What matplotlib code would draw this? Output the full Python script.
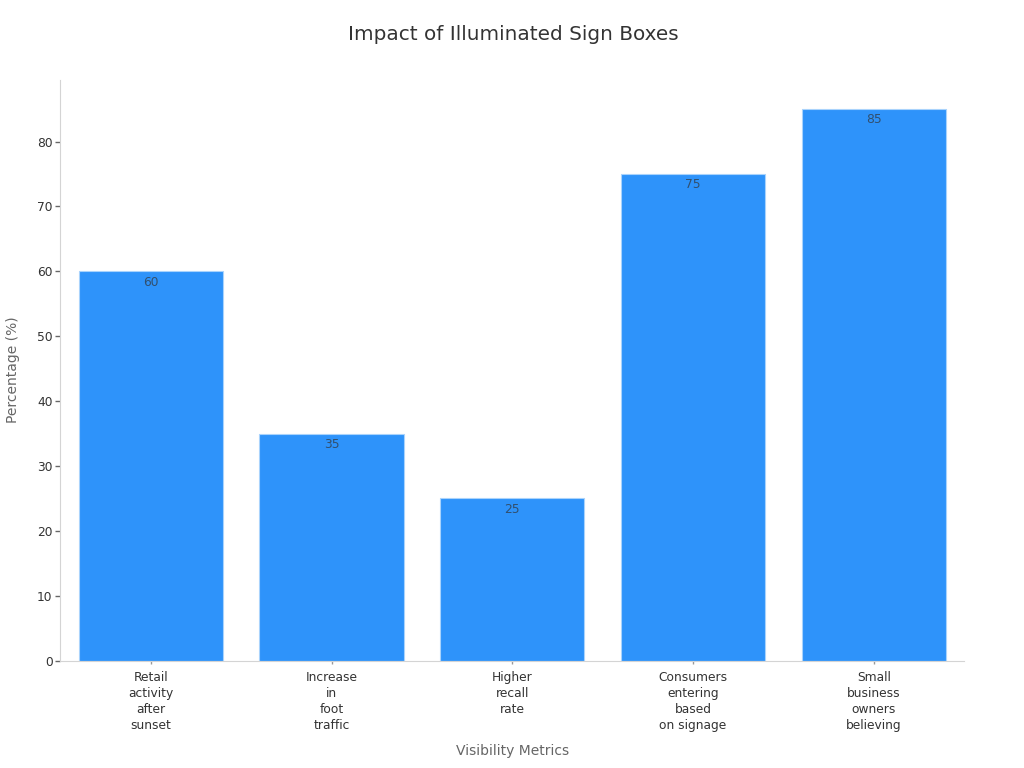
import numpy as np
import matplotlib
matplotlib.use("Agg")
import matplotlib.pyplot as plt

plt.rcParams["font.family"] = "DejaVu Sans"

CATEGORIES = ["Retail\nactivity\nafter\nsunset", "Increase\nin\nfoot\ntraffic", "Higher\nrecall\nrate",
              "Consumers\nentering\nbased\non signage", "Small\nbusiness\nowners\nbelieving"]
VALUES = [60, 35, 25, 75, 85]
YTICKS = [0, 10, 20, 30, 40, 50, 60, 70, 80]

fig = plt.figure(figsize=(10.24, 7.68), dpi=100)
ax = fig.add_axes([60.3 / 1024, 1 - 660.6 / 768, 904 / 1024, 580.6 / 768])

x = np.arange(len(VALUES))
bars = ax.bar(x, VALUES, width=0.797, color="#2E93FA", edgecolor="#a9d3fc", linewidth=0.8)
for xi, v in zip(x, VALUES):
    ax.annotate(str(v), (xi, v), xytext=(0, -3), textcoords="offset points",
                ha="center", va="top", fontsize=8.8, color="#333333", alpha=0.7)

ax.set_xlim(-0.5, 4.5)
ax.set_ylim(0, 89.5)
ax.set_xticks(x)
ax.set_xticklabels(CATEGORIES, fontsize=8.8, color="#333333", linespacing=1.31)
ax.set_yticks(YTICKS)
ax.tick_params(axis="y", labelsize=8.8, labelcolor="#333333", color="#666666", length=3.6, width=1, pad=2)
ax.tick_params(axis="x", length=2.2, width=1, color="#999999", pad=5)
for s in ["top", "right"]:
    ax.spines[s].set_visible(False)
for s in ["left", "bottom"]:
    ax.spines[s].set_color("#d4d4d4")

fig.text(513 / 1024, 1 - 34 / 768, "Impact of Illuminated Sign Boxes", ha="center", va="center",
         fontsize=14.4, color="#333333")
fig.text(513 / 1024, 1 - 751 / 768, "Visibility Metrics", ha="center", va="center", fontsize=10, color="#666666")
fig.text(13 / 1024, 1 - 370 / 768, "Percentage (%)", rotation=90, ha="center", va="center",
         fontsize=10, color="#666666")

fig.savefig("out.png", dpi=100)
